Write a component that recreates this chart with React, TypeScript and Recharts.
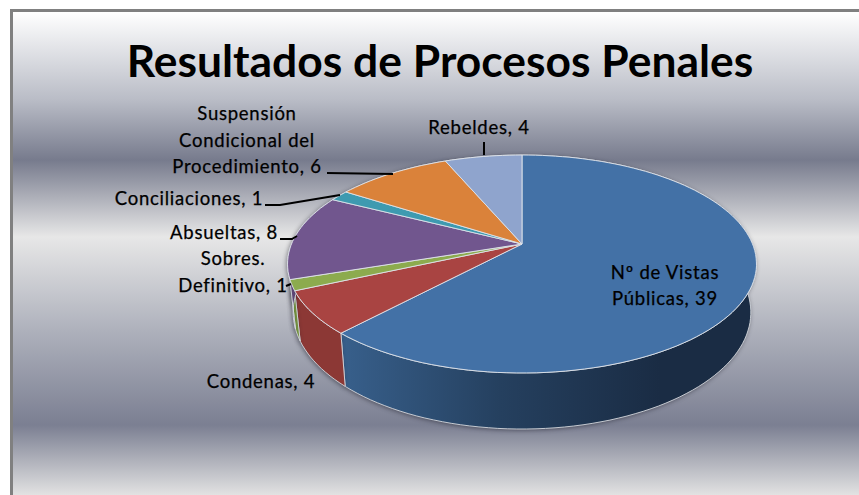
import { Pie, PieChart } from 'recharts'

const categories = [
  'Nº de Vistas Públicas',
  'Condenas',
  'Sobres. Definitivo',
  'Absueltas',
  'Conciliaciones',
  'Suspensión Condicional del Procedimiento',
  'Rebeldes',
]
const counts = [39, 4, 1, 8, 1, 6, 4]
const topColors = ['#4371a6', '#a94442', '#8cab4e', '#71568e', '#3e9ab0', '#da823a', '#8fa4cd']
const wallColors = ['url(#blueWall)', '#8c3835', '#74923f', '#5c4674', '#327f91', '#b36a2f', '#7688a8']

const data = categories.map((name, i) => ({ name, value: counts[i] }))

// label text broken the way the picture breaks it
const labelText = [
  ['Nº de Vistas', 'Públicas, 39'],
  ['Condenas, 4'],
  ['Sobres.', 'Definitivo, 1'],
  ['Absueltas, 8'],
  ['Conciliaciones, 1'],
  ['Suspensión', 'Condicional del', 'Procedimiento, 6'],
  ['Rebeldes, 4'],
]
// x, last baseline, anchor, line gap
const labelSpots: [number, number, string, number][] = [
  [665, 305, 'middle', 26],
  [261, 388, 'middle', 26],
  [233, 292, 'middle', 27],
  [224, 239, 'middle', 26],
  [189, 205, 'middle', 26],
  [247, 173, 'middle', 26.5],
  [479, 134, 'middle', 26],
]
const leaders = [
  '',
  '',
  'M286 286 L291 284',
  'M280 239 L292 239 L297 236',
  'M265 205 L280 205 L340 195',
  'M327 173 L393 174',
  'M484 142 L484 155',
]

// a tilted disc: the rim as seen through a simple perspective
const PERSPECTIVE = 0.1835
const SQUASH = 105.3 / 230.5

function rim(cx: number, cy: number, r: number, squash: number, angle: number) {
  const t = ((90 - angle) * Math.PI) / 180
  const d = 1 + PERSPECTIVE * Math.cos(t)
  return [cx + (r * Math.sin(t)) / d, cy - (r * squash * Math.cos(t)) / d]
}

function arc(cx: number, cy: number, r: number, squash: number, from: number, to: number) {
  const steps = Math.max(2, Math.ceil(Math.abs(to - from) / 2))
  const points = []
  for (let i = 0; i <= steps; i++) {
    const p = rim(cx, cy, r, squash, from + ((to - from) * i) / steps)
    points.push(`${p[0].toFixed(1)} ${p[1].toFixed(1)}`)
  }
  return points
}

function TopSlice(props: any) {
  const { cx, cy, outerRadius, startAngle, endAngle, index } = props
  const points = arc(cx, cy, outerRadius, SQUASH, startAngle, endAngle)
  return (
    <path
      d={`M${cx} ${cy} L${points.join(' L')} Z`}
      fill={topColors[index]}
      stroke="#dfe3ea"
      strokeWidth={0.9}
      strokeLinejoin="round"
    />
  )
}

function WallSlice(props: any) {
  const { cx, cy, outerRadius, startAngle, endAngle, index } = props
  const upper = arc(cx, cy, outerRadius, SQUASH, startAngle, endAngle)
  const lower = arc(cx, cy + 47, outerRadius * 0.976, 112.7 / 225, endAngle, startAngle)
  return (
    <path
      d={`M${upper.join(' L')} L${lower.join(' L')} Z`}
      fill={wallColors[index]}
      stroke="#d5d8de"
      strokeWidth={0.9}
      strokeLinejoin="round"
      style={{ filter: 'drop-shadow(-1px 1px 2px rgba(20,20,30,0.45))' }}
    />
  )
}

function SliceLabel(props: any) {
  const { index } = props
  const lines = labelText[index]
  const [x, y, anchor, gap] = labelSpots[index]
  return (
    <g>
      {leaders[index] && (
        <path d={leaders[index]} fill="none" stroke="#000" strokeWidth={2} />
      )}
      {lines.map((line, i) => (
        <text
          key={line}
          x={x}
          y={y - (lines.length - 1 - i) * gap}
          textAnchor={anchor as any}
          fontFamily="Lato, 'Open Sans', sans-serif"
          fontSize={18.5}
          letterSpacing={0.75}
          stroke="#000"
          strokeWidth={0.25}
          fill="#000"
        >
          {line}
        </text>
      ))}
    </g>
  )
}

const background = `linear-gradient(to bottom,
  #ffffff 0px, #b9bcc6 88px, #777b8d 148px, #e7e7e7 225px,
  #adb0bb 320px, #7b7f92 413px, #e2e2e2 483px)`

export default function App() {
  return (
    <div style={{ position: 'absolute', left: 0, top: 0, width: 859, height: 495, overflow: 'hidden', background: '#fff' }}>
      <div
        style={{
          position: 'absolute',
          left: 10,
          top: 9,
          width: 860,
          height: 500,
          border: '3px solid #808080',
          boxSizing: 'border-box',
          background,
        }}
      />
      <div style={{ position: 'absolute', left: 0, top: 0 }}>
        <PieChart width={859} height={495} margin={{ top: 0, right: 0, bottom: 0, left: 0 }}>
          <defs>
            <linearGradient id="blueWall" x1="340" x2="660" y1="0" y2="0" gradientUnits="userSpaceOnUse">
              <stop offset="0" stopColor="#38608c" />
              <stop offset="0.5" stopColor="#25405f" />
              <stop offset="1" stopColor="#1a2c44" />
            </linearGradient>
          </defs>
          <Pie
            data={data}
            dataKey="value"
            nameKey="name"
            cx={522}
            cy={244}
            outerRadius={230.5}
            startAngle={90}
            endAngle={-270}
            paddingAngle={0}
            stroke="none"
            shape={WallSlice}
            isAnimationActive={false}
          />
          <Pie
            data={data}
            dataKey="value"
            nameKey="name"
            cx={522}
            cy={244}
            outerRadius={230.5}
            startAngle={90}
            endAngle={-270}
            paddingAngle={0}
            stroke="none"
            shape={TopSlice}
            label={SliceLabel}
            labelLine={false}
            isAnimationActive={false}
          />
          <text
            x={440}
            y={77}
            textAnchor="middle"
            fontFamily="Lato, 'Open Sans', sans-serif"
            fontWeight={700}
            fontSize={44.4}
            fill="#000"
          >
            Resultados de Procesos Penales
          </text>
        </PieChart>
      </div>
    </div>
  )
}
